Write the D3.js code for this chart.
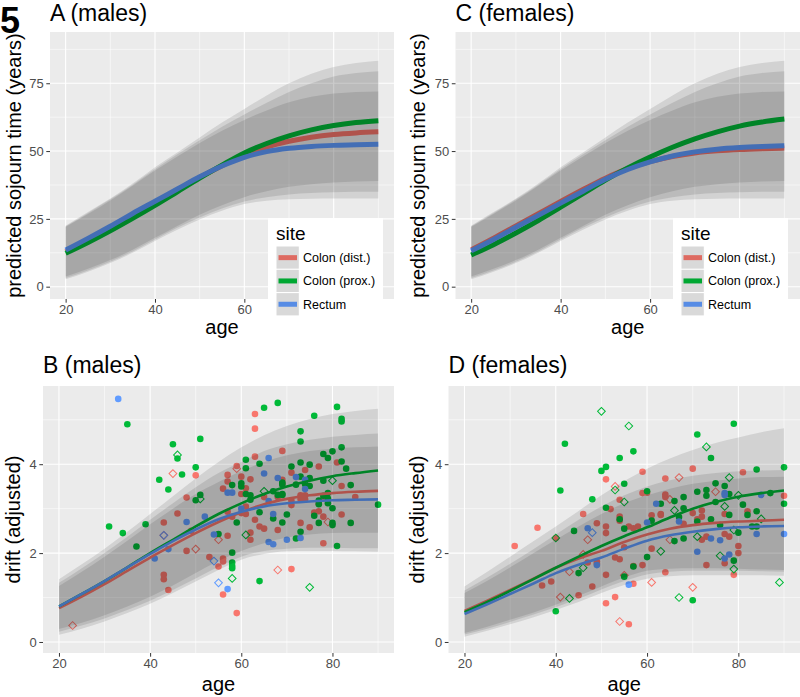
<!DOCTYPE html>
<html><head><meta charset="utf-8">
<script src="https://cdn.jsdelivr.net/npm/d3@7"></script>
<style>
body{margin:0;background:#fff}
svg{display:block}
text{font-family:"Liberation Sans",Arial,Helvetica,sans-serif}
</style></head>
<body><svg id="chart" width="800" height="697"></svg>
<script>
// ---------- data ----------
const sites = ["Colon (dist.)", "Colon (prox.)", "Rectum"];
const siteColors = ["#F8766D", "#00BA38", "#619CFF"];
const ages = [20,25,30,35,40,45,50,55,60,65,70,75,80,85,90];
const xTicks = [20,40,60,80];
const xMinor = [30,50,70,90];
const sojTicks = [0,25,50,75];
const sojMinor = [12.5,37.5,62.5,87.5];
const driftTicks = [0,2,4];
const driftMinor = [1,3,5];

// A (males) predicted sojourn time
const sojMaleDist = [13,17.2,21.6,26.2,31,35.7,40.3,44.6,48.6,51.5,53.6,55.1,56.1,56.7,57.1];
const sojMaleProx = [12.3,16.3,20.6,25.2,30,35,40,44.8,49.3,52.8,55.6,57.8,59.4,60.5,61.2];
const sojMaleRect = [13.5,17.8,22.3,27,31.5,36,40.5,44.5,47.7,49.8,51,51.7,52.1,52.3,52.5];
// C (females)
const sojFemDist = [13.6,17.9,22.4,26.9,31.4,35.8,40,43.5,46.1,48,49.3,50.1,50.6,50.9,51.1];
const sojFemProx = [11.7,15.5,19.8,24.4,29.3,34.3,39.3,43.8,47.8,51.4,54.5,57.1,59.2,60.7,61.8];
const sojFemRect = [13.2,17.4,21.9,26.3,30.8,35.2,39.6,43.2,46,48.2,49.7,50.7,51.3,51.7,52];
// sojourn bands (three ribbons)
const sojBandUpper = [
  [22.5,27.5,32.5,38,44,49.5,55,60.5,65.5,70.5,75,78.5,81,82.5,83.3],
  [22.3,27.2,32.2,37.6,43.4,48.8,54,59,63.5,67.8,71.8,75,77.5,78.8,79.4],
  [22,26.8,31.8,37.2,42.8,48,53,57.5,61.5,65,68,70,71.2,71.8,72]
];
const sojBandLower = [
  [2.7,5.5,8.7,12.5,16.8,21,24.8,28,30.5,31.7,32.2,32.4,32.5,32.5,32.5],
  [3.2,6,9.2,13,17.4,21.7,25.5,28.8,31.4,33,34,34.5,34.8,35,35],
  [3.8,6.6,9.8,13.6,18,22.4,26.5,30,33,35.2,36.8,37.8,38.4,38.8,39]
];

// B (males) drift curves
const driftMaleDist = [0.76,1.02,1.3,1.6,1.9,2.18,2.45,2.7,2.92,3.1,3.22,3.3,3.35,3.38,3.4];
const driftMaleProx = [0.8,1.08,1.37,1.68,2.0,2.3,2.6,2.88,3.12,3.33,3.5,3.63,3.73,3.8,3.86];
const driftMaleRect = [0.8,1.08,1.37,1.68,1.98,2.27,2.53,2.76,2.93,3.05,3.12,3.16,3.19,3.2,3.21];
const driftMaleUpper = [
  [1.41,1.75,2.1,2.48,2.88,3.28,3.68,4.05,4.38,4.65,4.86,5.02,5.13,5.2,5.25],
  [1.33,1.66,2.0,2.37,2.75,3.12,3.48,3.8,4.05,4.3,4.45,4.55,4.62,4.66,4.69],
  [1.26,1.58,1.92,2.28,2.65,3.0,3.33,3.6,3.85,4.05,4.2,4.3,4.35,4.38,4.4]
];
const driftMaleLower = [
  [0.16,0.3,0.46,0.65,0.86,1.1,1.36,1.62,1.85,1.98,2.04,2.05,2.05,2.04,2.03],
  [0.23,0.37,0.53,0.72,0.93,1.17,1.43,1.69,1.92,2.05,2.1,2.12,2.12,2.11,2.11],
  [0.29,0.43,0.6,0.8,1.02,1.27,1.55,1.82,2.05,2.22,2.35,2.42,2.45,2.46,2.46]
];
// D (females) drift curves
const driftFemDist = [0.7,0.93,1.17,1.42,1.67,1.88,2.05,2.25,2.42,2.55,2.63,2.68,2.71,2.73,2.75];
const driftFemProx = [0.67,0.9,1.15,1.41,1.67,1.92,2.16,2.38,2.58,2.8,3.0,3.15,3.27,3.35,3.41];
const driftFemRect = [0.63,0.85,1.08,1.31,1.55,1.74,1.9,2.1,2.28,2.4,2.48,2.54,2.58,2.6,2.61];
const driftFemUpper = [
  [1.25,1.58,1.92,2.26,2.6,2.95,3.3,3.62,3.9,4.13,4.32,4.48,4.6,4.72,4.81],
  [1.16,1.45,1.76,2.08,2.42,2.75,3.05,3.3,3.5,3.64,3.74,3.8,3.84,3.86,3.87],
  [1.1,1.38,1.68,1.99,2.3,2.6,2.88,3.12,3.3,3.45,3.56,3.63,3.68,3.71,3.72]
];
const driftFemLower = [
  [0.12,0.25,0.4,0.55,0.72,0.9,1.1,1.28,1.42,1.48,1.5,1.5,1.5,1.5,1.49],
  [0.17,0.3,0.45,0.61,0.78,0.97,1.18,1.37,1.52,1.58,1.6,1.6,1.6,1.59,1.58],
  [0.2,0.34,0.5,0.66,0.84,1.04,1.25,1.45,1.6,1.65,1.66,1.66,1.65,1.63,1.62]
];

// observed points: [age, drift, open diamond (1) or filled circle (0)]
const ptsMaleDist = [[23,0.37,1],[43,2.40,1],[45,3.79,1],[50,2.09,1],[55,2.30,1],[59,3.90,1],[68,1.62,1],[79,2.70,1],
[43,2.69,0],[43,1.51,0],[43,1.41,0],[44,1.17,0],[50,3.75,0],[48,3.25,0],[46,2.89,0],[49,2.50,0],[48,2.05,0],[53,1.91,0],[56,1.88,0],[56,1.81,0],[55,1.70,0],[56,1.07,0],[59,0.65,0],[57,2.39,0],[56,3.45,0],[57,3.76,0],[57,3.61,0],[59,3.96,0],[60,3.72,0],[60,3.33,0],[61,3.46,0],[63,4.17,0],[63,4.80,0],[63,5.13,0],[65,3.26,0],[60,2.90,0],[61,3.05,0],[63,2.75,0],[64,2.60,0],[65,2.55,0],[62,2.46,0],[62,2.30,0],[69,4.30,0],[69,3.65,0],[69,3.56,0],[71,3.81,0],[74,3.87,0],[77,3.95,0],[81,4.04,0],[82,3.51,0],[85,3.26,0],[78,3.23,0],[77,3.12,0],[82,2.87,0],[77,2.94,0],[78,2.82,0],[76,2.91,0],[75,2.58,0],[78,2.22,0],[71,1.64,0],[73,2.68,0],[68,2.52,0],[68,3.26,0],[71,3.18,0],[71,3.08,0],[73,3.30,0],[74,3.30,0],[74,3.21,0],[73,3.22,0],[57,2.93,0],[61,2.88,0],[62,3.66,0],[58,2.82,0]];
const ptsMaleProx = [[46,4.21,1],[51,3.22,1],[58,1.43,1],[61,2.41,1],[65,3.39,1],[75,1.23,1],[80,3.63,1],
[35,4.90,0],[31,2.60,0],[34,2.45,0],[37,2.15,0],[39,2.65,0],[42,3.65,0],[44,3.43,0],[45,4.45,0],[46,4.13,0],[47,3.77,0],[51,4.57,0],[50,3.93,0],[51,3.31,0],[50,3.19,0],[55,2.43,0],[58,2.01,0],[58,1.79,0],[58,1.71,0],[58,1.66,0],[58,3.53,0],[60,3.57,0],[60,3.50,0],[61,4.10,0],[61,3.91,0],[61,3.33,0],[62,3.30,0],[62,3.20,0],[65,5.27,0],[68,5.38,0],[64,4.01,0],[64,2.92,0],[59,2.69,0],[69,3.59,0],[71,3.95,0],[73,4.74,0],[73,4.51,0],[73,4.04,0],[73,3.72,0],[75,3.99,0],[75,3.69,0],[75,3.51,0],[72,3.54,0],[76,5.09,0],[78,4.23,0],[79,4.14,0],[80,4.29,0],[82,4.38,0],[81,5.29,0],[82,5.02,0],[82,4.96,0],[82,4.06,0],[83,3.90,0],[78,3.63,0],[84,3.53,0],[90,3.09,0],[79,3.35,0],[79,3.23,0],[79,3.12,0],[80,3.01,0],[80,2.68,0],[80,2.63,0],[84,2.68,0],[77,2.68,0],[76,2.84,0],[81,2.16,0],[72,2.33,0],[73,2.48,0],[70,2.87,0],[69,2.69,0],[67,2.78,0],[68,3.31,0],[69,3.31,0],[67,3.39,0],[64,1.37,0],[69,3.54,0],[74,3.55,0],[78,3.29,0],[77,3.18,0],[77,3.10,0],[69,3.33,0]];
const ptsMaleRect = [[43,2.40,1],[54,1.82,1],[55,1.33,1],
[33,5.47,0],[41,1.88,0],[44,2.09,0],[52,2.82,0],[48,2.70,0],[54,2.42,0],[57,1.19,0],[57,3.36,0],[58,3.36,0],[66,4.14,0],[65,3.79,0],[68,3.69,0],[72,3.71,0],[74,3.65,0],[70,2.30,0],[73,2.34,0],[66,2.25,0],[67,2.20,0],[67,2.88,0],[66,3.17,0],[60,3.00,0],[74,3.44,0]];

const ptsFemDist = [[41,1.01,1],[43,1.58,1],[46,1.97,1],[47,2.30,1],[53,3.50,1],[54,0.46,1],[55,1.50,1],[61,1.34,1],[65,3.21,1],[65,2.30,1],[67,3.70,1],[70,1.23,1],[75,3.38,1],
[31,2.16,0],[36,2.57,0],[37,1.27,0],[39,1.36,0],[40,2.34,0],[45,1.05,0],[46,2.88,0],[47,1.79,0],[48,1.25,0],[49,2.67,0],[49,1.81,0],[51,3.66,0],[52,2.99,0],[51,2.60,0],[51,2.45,0],[51,1.51,0],[51,0.87,0],[53,1.90,0],[54,1.86,0],[53,1.01,0],[56,0.40,0],[54,2.82,0],[54,3.20,0],[54,2.73,0],[55,2.13,0],[56,2.60,0],[57,2.56,0],[58,2.60,0],[57,1.31,0],[59,3.83,0],[59,3.35,0],[60,3.36,0],[59,1.73,0],[57,1.71,0],[61,2.85,0],[63,2.88,0],[64,3.68,0],[64,3.32,0],[64,3.26,0],[63,2.86,0],[64,1.57,0],[68,2.66,0],[70,3.90,0],[70,2.90,0],[72,2.96,0],[72,2.82,0],[72,2.30,0],[73,1.73,0],[73,2.37,0],[77,2.43,0],[77,1.77,0],[78,2.37,0],[79,1.51,0],[80,2.16,0],[80,2.00,0],[81,3.82,0],[82,2.94,0],[90,3.29,0],[71,2.76,0],[77,2.88,0],[49,1.76,0],[61,2.10,0]];
const ptsFemProx = [[40,2.34,1],[43,0.98,1],[46,1.67,1],[50,5.19,1],[53,3.42,1],[55,3.15,1],[56,4.86,1],[63,2.04,1],[66,2.96,1],[67,1.00,1],[71,2.37,1],[73,4.39,1],[76,1.94,1],[77,3.05,1],[78,3.70,1],[79,1.64,1],[80,3.30,1],[85,2.77,1],[89,1.34,1],[79,2.52,1],
[40,0.69,0],[41,3.41,0],[42,4.46,0],[44,2.50,0],[45,1.55,0],[48,3.21,0],[50,3.85,0],[51,3.94,0],[51,3.02,0],[54,4.14,0],[54,2.76,0],[55,3.56,0],[55,2.55,0],[55,1.47,0],[57,4.29,0],[57,1.70,0],[60,3.39,0],[60,1.91,0],[61,2.73,0],[63,3.11,0],[66,3.17,0],[66,2.27,0],[67,2.81,0],[68,3.26,0],[68,3.01,0],[68,2.33,0],[70,0.94,0],[71,4.67,0],[71,3.38,0],[71,2.71,0],[73,3.42,0],[73,3.29,0],[74,4.14,0],[75,3.57,0],[75,3.15,0],[76,2.63,0],[77,3.51,0],[78,3.33,0],[78,2.86,0],[79,4.91,0],[79,1.83,0],[80,2.46,0],[81,3.09,0],[82,2.86,0],[83,2.60,0],[84,3.88,0],[84,2.94,0],[84,2.60,0],[87,3.35,0],[90,3.93,0],[90,3.11,0],[74,2.76,0]];
const ptsFemRect = [[48,2.46,1],
[47,2.56,0],[49,1.73,0],[56,1.29,0],[60,2.69,0],[62,3.11,0],[67,2.71,0],[71,2.03,0],[74,2.33,0],[76,2.29,0],[77,3.35,0],[78,1.97,0],[84,2.43,0],[85,3.31,0],[90,2.43,0],[77,1.88,0],[77,3.31,0]];

// ---------- drawing ----------
const svg = d3.select("#chart");
const xDomain = [16.5, 93.5];

function drawPanel(cfg) {
  const g = svg.append("g");
  const x = d3.scaleLinear().domain(xDomain).range([cfg.left, cfg.right]);
  const y = d3.scaleLinear().domain(cfg.yDomain).range([cfg.bottom, cfg.top]);
  const clipId = "clip" + cfg.id;
  svg.append("clipPath").attr("id", clipId).append("rect")
    .attr("x", cfg.left).attr("y", cfg.top)
    .attr("width", cfg.right - cfg.left).attr("height", cfg.bottom - cfg.top);

  g.append("rect").attr("x", cfg.left).attr("y", cfg.top)
    .attr("width", cfg.right - cfg.left).attr("height", cfg.bottom - cfg.top)
    .attr("fill", "#EBEBEB");

  const grid = g.append("g");
  grid.selectAll(".xm").data(xMinor).join("line")
    .attr("x1", d => x(d)).attr("x2", d => x(d)).attr("y1", cfg.top).attr("y2", cfg.bottom)
    .attr("stroke", "#fff").attr("stroke-width", 0.55);
  grid.selectAll(".ym").data(cfg.yMinor).join("line")
    .attr("y1", d => y(d)).attr("y2", d => y(d)).attr("x1", cfg.left).attr("x2", cfg.right)
    .attr("stroke", "#fff").attr("stroke-width", 0.55);
  grid.selectAll(".xM").data(xTicks).join("line")
    .attr("x1", d => x(d)).attr("x2", d => x(d)).attr("y1", cfg.top).attr("y2", cfg.bottom)
    .attr("stroke", "#fff").attr("stroke-width", 1.1);
  grid.selectAll(".yM").data(cfg.yTicks).join("line")
    .attr("y1", d => y(d)).attr("y2", d => y(d)).attr("x1", cfg.left).attr("x2", cfg.right)
    .attr("stroke", "#fff").attr("stroke-width", 1.1);

  const body = g.append("g").attr("clip-path", `url(#${clipId})`);

  // points
  if (cfg.points) {
    const sq = d3.symbol().type(d3.symbolSquare).size(30);
    cfg.points.forEach((pts, si) => {
      body.append("g").selectAll("circle").data(pts.filter(p => !p[2])).join("circle")
        .attr("cx", d => x(d[0])).attr("cy", d => y(d[1])).attr("r", 3.3)
        .attr("fill", siteColors[si]);
      body.append("g").selectAll("path").data(pts.filter(p => p[2])).join("path")
        .attr("d", sq)
        .attr("transform", d => `translate(${x(d[0])},${y(d[1])}) rotate(45)`)
        .attr("fill", "none").attr("stroke", siteColors[si]).attr("stroke-width", 1);
    });
  }

  // lines
  const line = d3.line().x((d, i) => x(ages[i])).y(d => y(d)).curve(d3.curveMonotoneX);
  cfg.lines.forEach((vals, si) => {
    body.append("path").datum(vals).attr("d", line)
      .attr("fill", "none").attr("stroke", siteColors[si])
      .attr("stroke-width", cfg.lineWidth).attr("stroke-linecap", "butt");
  });

  // ribbons on top
  cfg.upper.forEach((up, k) => {
    const lo = cfg.lower[k];
    const area = d3.area().x((d, i) => x(ages[i]))
      .y0((d, i) => y(lo[i])).y1(d => y(d)).curve(d3.curveMonotoneX);
    body.append("path").datum(up).attr("d", area)
      .attr("fill", "#000").attr("fill-opacity", 0.105);
  });

  // axes (ticks hidden behind the legend are left out)
  const xt = cfg.hideX ? xTicks.filter(t => !cfg.hideX.includes(t)) : xTicks;
  const ax = g.append("g").attr("transform", `translate(0,${cfg.bottom})`)
    .call(d3.axisBottom(x).tickValues(xt).tickFormat(d3.format("d")).tickSize(3.7).tickPadding(2.5));
  const ay = g.append("g").attr("transform", `translate(${cfg.left},0)`)
    .call(d3.axisLeft(y).tickValues(cfg.yTicks).tickFormat(d3.format("d")).tickSize(3.7).tickPadding(2.5));
  [ax, ay].forEach(a => {
    a.select(".domain").remove();
    a.selectAll(".tick line").attr("stroke", "#333").attr("stroke-width", 1);
    a.selectAll(".tick text").attr("fill", "#4D4D4D")
      .style("font-size", "13px").style("font-family", '"Liberation Sans",Arial,sans-serif');
  });

  // titles
  g.append("text").attr("x", cfg.left).attr("y", cfg.titleY)
    .style("font-size", "23px").attr("fill", "#000").text(cfg.title);
  g.append("text").attr("x", (cfg.left + cfg.right) / 2).attr("y", cfg.xTitleY)
    .attr("text-anchor", "middle").style("font-size", "20px").text("age");
  g.append("text")
    .attr("transform", `translate(${cfg.yTitleX},${(cfg.top + cfg.bottom) / 2}) rotate(-90)`)
    .attr("text-anchor", "middle").style("font-size", "20px").text(cfg.yTitle);
}

function drawLegend(x0, y0, lw) {
  const g = svg.append("g");
  g.append("rect").attr("x", x0).attr("y", y0).attr("width", 115).attr("height", 103).attr("fill", "#fff");
  g.append("text").attr("x", x0 + 8).attr("y", y0 + 21.5).style("font-size", "19px").text("site");
  const kh = 23.3;
  sites.forEach((s, i) => {
    const ky = y0 + 28 + i * kh;
    g.append("rect").attr("x", x0 + 8).attr("y", ky).attr("width", kh).attr("height", kh)
      .attr("fill", "#F2F2F2").attr("stroke", "#fff").attr("stroke-width", 1);
    g.append("line").attr("x1", x0 + 10.5).attr("x2", x0 + 29).attr("y1", ky + kh / 2).attr("y2", ky + kh / 2)
      .attr("stroke", siteColors[i]).attr("stroke-width", lw);
    g.append("rect").attr("x", x0 + 8.5).attr("y", ky + 0.5).attr("width", kh - 1).attr("height", kh - 1)
      .attr("fill", "#000").attr("fill-opacity", 0.1);
    g.append("text").attr("x", x0 + 35).attr("y", ky + kh / 2 + 4.5)
      .style("font-size", "12.5px").text(s);
  });
}

drawPanel({id: "A", left: 50, right: 394, top: 32, bottom: 299, yDomain: [-4.54, 93.9],
  yTicks: sojTicks, yMinor: sojMinor, title: "A (males)", titleY: 20.5, xTitleY: 334,
  yTitle: "predicted sojourn time (years)", yTitleX: 20.5, lineWidth: 5, hideX: [80],
  lines: [sojMaleDist, sojMaleProx, sojMaleRect], upper: sojBandUpper, lower: sojBandLower});
drawPanel({id: "C", left: 455.5, right: 800, top: 32, bottom: 299, yDomain: [-4.54, 93.9],
  yTicks: sojTicks, yMinor: sojMinor, title: "C (females)", titleY: 20.5, xTitleY: 334,
  yTitle: "predicted sojourn time (years)", yTitleX: 425, lineWidth: 5, hideX: [80],
  lines: [sojFemDist, sojFemProx, sojFemRect], upper: sojBandUpper, lower: sojBandLower});
drawPanel({id: "B", left: 43, right: 394, top: 386, bottom: 653, yDomain: [-0.248, 5.76],
  yTicks: driftTicks, yMinor: driftMinor, title: "B (males)", titleY: 373, xTitleY: 690.5,
  yTitle: "drift (adjusted)", yTitleX: 20, lineWidth: 2.6,
  lines: [driftMaleDist, driftMaleProx, driftMaleRect], upper: driftMaleUpper, lower: driftMaleLower,
  points: [ptsMaleDist, ptsMaleProx, ptsMaleRect]});
drawPanel({id: "D", left: 448.5, right: 800, top: 386, bottom: 653, yDomain: [-0.248, 5.76],
  yTicks: driftTicks, yMinor: driftMinor, title: "D (females)", titleY: 373, xTitleY: 690.5,
  yTitle: "drift (adjusted)", yTitleX: 424, lineWidth: 2.6,
  lines: [driftFemDist, driftFemProx, driftFemRect], upper: driftFemUpper, lower: driftFemLower,
  points: [ptsFemDist, ptsFemProx, ptsFemRect]});

drawLegend(268, 218, 5);
drawLegend(673, 218, 5);

svg.append("text").attr("x", 0).attr("y", 33).style("font-size", "36px").style("font-weight", "bold").text("5");
</script>
</body></html>
